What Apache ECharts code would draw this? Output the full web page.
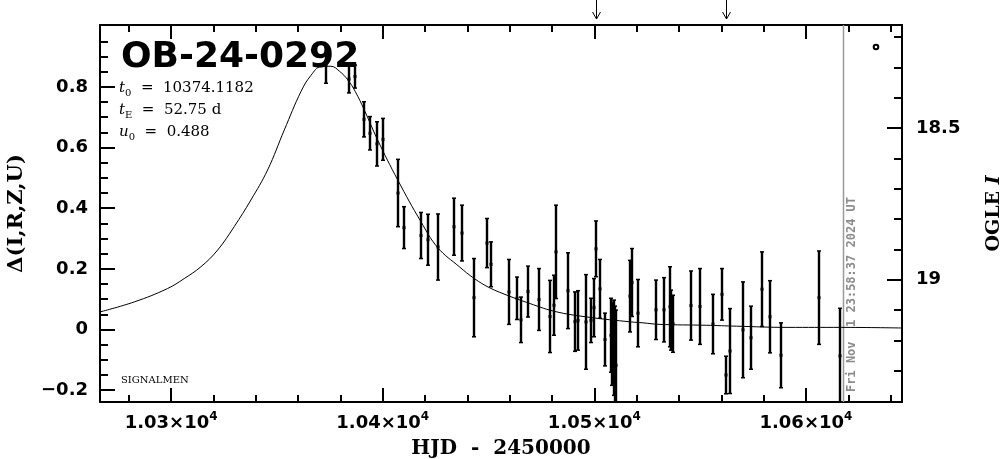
<!DOCTYPE html>
<html>
<head>
<meta charset="utf-8">
<script src="https://cdn.jsdelivr.net/npm/echarts@6/dist/echarts.min.js"></script>
<style>
html,body{margin:0;padding:0;background:#fff;}
#c{width:1004px;height:459px;}
</style>
</head>
<body>
<div id="c"></div>
<script>
// ---- axis ranges / ticks ----
const X_MIN = 10266.4, X_MAX = 10645.4;
const Y_MIN = -0.239, Y_MAX = 1.004;
const MAG0 = 19.164; // OGLE I magnitude at Delta = 0
const X_MAJOR = [10300, 10400, 10500, 10600];
const X_MINOR = [10280,10300,10320,10340,10360,10380,10400,10420,10440,10460,10480,10500,10520,10540,10560,10580,10600,10620,10640];
const Y_MAJOR = [-0.2, 0, 0.2, 0.4, 0.6, 0.8];
const Y_MINOR = [-0.2,-0.15,-0.1,-0.05,0,0.05,0.1,0.15,0.2,0.25,0.3,0.35,0.4,0.45,0.5,0.55,0.6,0.65,0.7,0.75,0.8,0.85,0.9,0.95];
const MAG_MAJOR = [18.5, 19];
const MAG_MINOR = [18.2,18.3,18.4,18.5,18.6,18.7,18.8,18.9,19.0,19.1,19.2,19.3];

// ---- photometry (HJD-2450000, Delta, error) ----
const HJD = [10373.2,10384.1,10386.9,10391.3,10394.1,10397.2,10400.0,10407.4,10410.2,10418.1,
  10421.3,10426.3,10433.9,10437.4,10443.0,10449.3,10451.2,10459.9,10463.4,10465.2,
  10468.8,10474.0,10479.1,10481.1,10482.1,10487.5,10490.9,10492.3,10496.1,10498.2,
  10500.0,10501.0,10502.9,10505.1,10507.7,10508.4,10509.1,10509.6,10510.1,10516.7,
  10517.9,10520.6,10529.2,10533.1,10535.6,10536.3,10537.0,10545.8,10550.0,10556.0,
  10560.3,10562.3,10563.9,10570.2,10574.1,10579.2,10583.1,10588.0,10606.1,10616.0];
const DELTA = [0.872,0.826,0.834,0.693,0.647,0.612,0.627,0.450,0.336,0.310,
  0.296,0.272,0.339,0.318,0.105,0.285,0.215,0.124,0.103,0.032,
  0.125,0.099,0.043,0.080,0.256,0.128,0.026,0.030,0.025,0.030,
  0.072,0.266,0.134,-0.033,-0.019,-0.047,-0.060,-0.095,-0.118,0.110,
  0.155,0.054,0.065,0.065,0.075,0.031,0.019,0.079,0.076,0.018,
  0.116,-0.150,-0.071,-0.001,-0.027,0.133,0.042,-0.085,0.105,-0.087];
const ERR = [0.060,0.046,0.038,0.058,0.055,0.073,0.069,0.111,0.069,0.076,
  0.084,0.109,0.094,0.092,0.129,0.081,0.074,0.107,0.070,0.075,
  0.084,0.102,0.119,0.099,0.154,0.125,0.098,0.098,0.156,0.073,
  0.096,0.092,0.097,0.087,0.122,0.137,0.157,0.172,0.182,0.118,
  0.112,0.111,0.098,0.106,0.132,0.099,0.094,0.114,0.125,0.098,
  0.085,0.062,0.140,0.158,0.104,0.123,0.119,0.107,0.154,0.157];

// ---- model curve ----
const MODEL_HJD = [10266.4,10282.6,10298.3,10306.2,10314.1,10322.0,10329.8,10337.7,10345.6,10353.5,
  10361.4,10366.1,10370.8,10375.5,10379.5,10383.5,10387.0,10391.3,10397.6,10407.1,
  10418.1,10426.0,10436.2,10443.3,10450.4,10459.9,10467.8,10481.1,10496.9,10517.4,
  10523.0,10530.6,10552.9,10567.1,10591.5,10616.7,10645.4];
const MODEL_DELTA = [0.058,0.091,0.135,0.168,0.207,0.262,0.339,0.427,0.526,0.658,
  0.785,0.838,0.867,0.868,0.852,0.823,0.785,0.724,0.625,0.493,
  0.355,0.270,0.207,0.168,0.138,0.110,0.090,0.060,0.041,0.025,
  0.022,0.017,0.014,0.011,0.007,0.007,0.005];

const ARROW_HJD = [10500.9, 10562.0];
const NOW_HJD = 10617.4;
const NOW_TEXT = 'Fri Nov  1 23:58:37 2024 UT';

const TITLE = 'OB-24-0292';
const PARAMS = [['t','0','  =  10374.1182'],['t','E','  =  52.75 d'],['u','0','  =  0.488']];

// ---- build ----
const errData = HJD.map((x,i)=>[x, DELTA[i], ERR[i]]);
const modelData = MODEL_HJD.map((x,i)=>[x, MODEL_DELTA[i]]);

const BLK = '#000';
const tickFont = {color:BLK, fontFamily:'DejaVu Sans', fontWeight:'bold', fontSize:18};

function xAx(pos, major, showLine, showLabel, name){
  return {
    type:'value', position:pos, offset:0, min:X_MIN, max:X_MAX,
    name: name || '', nameLocation:'middle', nameGap:37,
    nameTextStyle:{color:BLK, fontFamily:'DejaVu Serif', fontWeight:'bold', fontSize:20},
    axisLine:{show:showLine, onZero:false, lineStyle:{color:BLK, width:2}},
    axisTick:{show:true, inside:true, length: major?14:7, customValues: major?X_MAJOR:X_MINOR, lineStyle:{color:BLK,width:2}},
    axisLabel:{show:showLabel, customValues:X_MAJOR, margin:9,
      formatter:(v)=>'{b|'+(v/1e4).toFixed(2)+'×10}{s|4}',
      rich:{b:{...tickFont, lineHeight:24}, s:{...tickFont, fontSize:12, verticalAlign:'top'}}},
    splitLine:{show:false}
  };
}
function yAx(pos, major, showLine, showLabel, name){
  return {
    type:'value', position:pos, offset:0, min:Y_MIN, max:Y_MAX,
    name: name || '', nameLocation:'middle', nameGap:73, nameRotate:90,
    nameTextStyle:{color:BLK, fontFamily:'DejaVu Serif', fontWeight:'bold', fontSize:21},
    axisLine:{show:showLine, onZero:false, lineStyle:{color:BLK, width:2}},
    axisTick:{show:true, inside:true, length: major?15:8, customValues: major?Y_MAJOR:Y_MINOR, lineStyle:{color:BLK,width:2}},
    axisLabel:{show:showLabel, customValues:Y_MAJOR, margin:12, ...tickFont,
      formatter:(v)=> (Math.abs(v)<1e-9 ? '0' : String(+v.toFixed(2)).replace('-', '−'))},
    splitLine:{show:false}
  };
}
function magAx(major, showLine, showLabel, name){
  return {
    type:'value', position:'right', offset:0, inverse:true,
    min: MAG0 - Y_MAX, max: MAG0 - Y_MIN,
    name: name || '', nameLocation:'middle', nameGap:83, nameRotate:90,
    nameTextStyle:{color:BLK, fontFamily:'DejaVu Serif', fontWeight:'bold', fontSize:19,
      rich:{a:{color:BLK, fontFamily:'DejaVu Serif', fontWeight:'bold', fontSize:19},
            b:{color:BLK, fontFamily:'DejaVu Serif', fontWeight:'bold', fontStyle:'italic', fontSize:19}}},
    axisLine:{show:showLine, onZero:false, lineStyle:{color:BLK, width:2}},
    axisTick:{show:true, inside:true, length: major?15:8, customValues: major?MAG_MAJOR:MAG_MINOR, lineStyle:{color:BLK,width:2}},
    axisLabel:{show:showLabel, customValues:MAG_MAJOR, margin:14, ...tickFont,
      formatter:(v)=> String(+v.toFixed(1))},
    splitLine:{show:false}
  };
}

function renderErr(params, api){
  const x = api.value(0), y = api.value(1), e = api.value(2);
  const c = api.coord([x,y]), t = api.coord([x,y+e]), b = api.coord([x,y-e]);
  const cx = Math.round(c[0]);
  return {type:'group', children:[
    {type:'line', shape:{x1:cx,y1:t[1],x2:cx,y2:b[1]}, style:{stroke:BLK, lineWidth:2.4}},
    {type:'line', shape:{x1:cx-2,y1:t[1],x2:cx+2,y2:t[1]}, style:{stroke:BLK,lineWidth:1.5}},
    {type:'line', shape:{x1:cx-2,y1:b[1],x2:cx+2,y2:b[1]}, style:{stroke:BLK,lineWidth:1.5}},
    {type:'rect', shape:{x:cx-1.5,y:c[1]-1.5,width:3,height:3}, style:{fill:BLK}}
  ]};
}
function renderArrow(params, api){
  const px = Math.round(api.coord([api.value(0), 0])[0]) + 0.5;
  const top = params.coordSys.y;
  return {type:'group', children:[
    {type:'line', shape:{x1:px,y1:0,x2:px,y2:top-6}, style:{stroke:BLK,lineWidth:1}},
    {type:'polyline', shape:{points:[[px-4,top-13],[px,top-6],[px+4,top-13]]}, style:{stroke:BLK,lineWidth:1,fill:null}}
  ]};
}
function renderNow(params, api){
  const px = Math.round(api.coord([api.value(0), 0])[0]) + 0.5;
  const cs = params.coordSys;
  return {type:'group', children:[
    {type:'line', shape:{x1:px,y1:cs.y,x2:px,y2:cs.y+cs.height}, style:{stroke:'#9a9a9a',lineWidth:1.5}},
    {type:'text', x:px+8, y:cs.y+cs.height-10, rotation:Math.PI/2,
      style:{text:NOW_TEXT, fill:'#8c8c8c', font:'bold 12px "DejaVu Sans Mono"', align:'left', verticalAlign:'middle'}}
  ]};
}

const graphics = [
  {type:'text', x:121, y:58, z:10, style:{text:TITLE, font:'bold 36px "DejaVu Sans"', fill:BLK, verticalAlign:'middle'}},
  {type:'text', x:121, y:380, z:10, style:{text:'SIGNALMEN', font:'10px "DejaVu Serif"', fill:BLK, verticalAlign:'middle'}},
  {type:'circle', x:876, y:47, z:10, shape:{r:2.3}, style:{fill:'#fff', stroke:BLK, lineWidth:2}}
];
PARAMS.forEach((p,i)=>{
  graphics.push({type:'text', x:119, y:88 + i*22.3, z:10, style:{
    text:'{i|'+p[0]+'}{s|'+p[1]+'}{n|'+p[2]+'}', verticalAlign:'middle', fill:BLK,
    rich:{
      i:{fontFamily:'DejaVu Serif', fontStyle:'italic', fontSize:15, lineHeight:20, fill:BLK, color:BLK},
      s:{fontFamily:'DejaVu Serif', fontSize:10, verticalAlign:'bottom', fill:BLK, color:BLK},
      n:{fontFamily:'DejaVu Serif', fontSize:15, lineHeight:20, fill:BLK, color:BLK}
    }}});
});

const option = {
  animation:false,
  backgroundColor:'#fff',
  grid:{left:100, top:25, width:802, height:377, containLabel:false, outerBoundsMode:'none'},
  xAxis:[ xAx('bottom', true, true, true, 'HJD  -  2450000'),
          xAx('bottom', false, false, false),
          xAx('top', true, true, false),
          xAx('top', false, false, false) ],
  yAxis:[ yAx('left', true, true, true, 'Δ(I,R,Z,U)'),
          yAx('left', false, false, false),
          magAx(true, true, true, '{a|OGLE }{b|I}'),
          magAx(false, false, false) ],
  series:[
    {type:'line', data:modelData, xAxisIndex:0, yAxisIndex:0, showSymbol:false, smooth:0.4,
      lineStyle:{color:BLK, width:1}, clip:true, z:3},
    {type:'custom', data:errData, xAxisIndex:0, yAxisIndex:0, renderItem:renderErr, clip:true,
      encode:{x:0, y:1}, z:4},
    {type:'custom', data:ARROW_HJD.map(x=>[x,0]), xAxisIndex:0, yAxisIndex:0, renderItem:renderArrow, clip:false,
      encode:{x:0, y:1}, z:5},
    {type:'custom', data:[[NOW_HJD,0]], xAxisIndex:0, yAxisIndex:0, renderItem:renderNow, clip:false,
      encode:{x:0, y:1}, z:2}
  ],
  graphic:graphics
};
const chart = echarts.init(document.getElementById('c'), null, {renderer:'canvas'});
chart.setOption(option);
</script>
</body>
</html>
